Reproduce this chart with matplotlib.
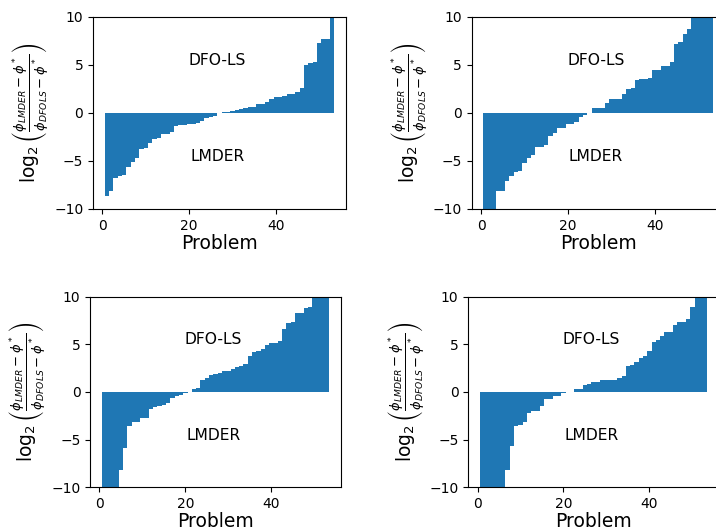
import numpy as np
import matplotlib
matplotlib.use('Agg')
import matplotlib.pyplot as plt

# sorted log2 ratios for the 53 test problems, one list per panel
vals_a = [-8.7, -8.1, -6.8, -6.6, -6.5, -5.6, -5.1, -4.7, -3.8, -3.6,
          -3.1, -2.7, -2.6, -2.2, -2.2, -1.95, -1.4, -1.3, -1.3, -1.2,
          -1.2, -1.05, -0.8, -0.55, -0.45, -0.3, -0.05, 0.1, 0.1, 0.25,
          0.35, 0.4, 0.5, 0.6, 0.65, 0.95, 0.95, 1.15, 1.5, 1.65,
          1.7, 1.8, 2.0, 2.0, 2.2, 2.55, 5.0, 5.2, 5.35, 7.3,
          7.7, 7.75, 12.0]
vals_b = [-12.0, -11.0, -10.5, -8.1, -8.1, -7.05, -6.55, -6.1, -6.0, -5.2,
          -4.65, -4.4, -3.5, -3.5, -3.3, -2.35, -2.05, -1.6, -1.6, -1.2,
          -1.1, -0.95, -0.4, -0.2, 0.02, 0.5, 0.55, 0.55, 1.05, 1.4,
          1.4, 1.5, 2.0, 2.45, 2.55, 3.4, 3.5, 3.55, 3.65, 4.5,
          4.5, 4.9, 4.9, 5.35, 7.15, 7.35, 8.2, 8.7, 10.5, 11.0,
          11.5, 12.0, 12.5]
vals_c = [-12.0, -11.5, -11.0, -10.5, -8.2, -5.9, -3.6, -3.2, -3.1, -2.7,
          -2.7, -1.75, -1.55, -1.45, -1.35, -1.2, -0.65, -0.4, -0.3, -0.1,
          0.05, 0.35, 0.4, 1.25, 1.5, 1.8, 1.9, 2.0, 2.2, 2.2,
          2.4, 2.65, 2.7, 2.95, 3.8, 4.2, 4.35, 4.5, 4.95, 5.1,
          5.15, 5.4, 6.65, 7.25, 7.3, 8.3, 8.3, 8.85, 8.95, 10.5,
          11.0, 11.5, 12.0]
vals_d = [-12.0, -12.0, -11.5, -11.0, -10.5, -10.5, -8.2, -5.7, -3.55, -3.45,
          -3.2, -2.25, -2.0, -1.95, -1.5, -0.7, -0.7, -0.4, -0.4, -0.1,
          -0.05, -0.05, 0.3, 0.3, 0.7, 0.8, 1.0, 1.05, 1.25, 1.25,
          1.25, 1.25, 1.45, 1.7, 2.7, 2.8, 3.1, 3.6, 3.8, 4.35,
          5.25, 5.5, 5.9, 6.35, 6.35, 7.05, 7.35, 7.4, 7.7, 8.9,
          10.5, 11.0, 12.0]

ylab = r'$\log_2\left(\frac{\phi_{LMDER}-\phi^*}{\phi_{DFOLS}-\phi^*}\right)$'

fig = plt.figure(figsize=(7.16, 5.29), dpi=100)
boxes = [[0.130, 0.605, 0.353, 0.363],
         [0.659, 0.605, 0.353, 0.363],
         [0.126, 0.079, 0.350, 0.360],
         [0.654, 0.079, 0.350, 0.360]]

for i, vals in enumerate([vals_a, vals_b, vals_c, vals_d]):
    ax = fig.add_axes(boxes[i])
    x = np.arange(1, len(vals) + 1)
    ax.bar(x, vals, width=1.0, color='#1f77b4', linewidth=0)
    ax.set_ylim(-10, 10)
    ax.set_xticks([0, 20, 40])
    ax.set_yticks([-10, -5, 0, 5, 10])
    ax.tick_params(labelsize=10)
    ax.text(len(vals) / 2, 5, 'DFO-LS', ha='center', fontsize=11.2)
    ax.text(len(vals) / 2, -5, 'LMDER', ha='center', fontsize=11.2)
    ax.set_xlabel('Problem', fontsize=13.5, labelpad=1)
    ax.set_ylabel(ylab, fontsize=13.5, labelpad=2)

fig.savefig('out.png', dpi=100)
